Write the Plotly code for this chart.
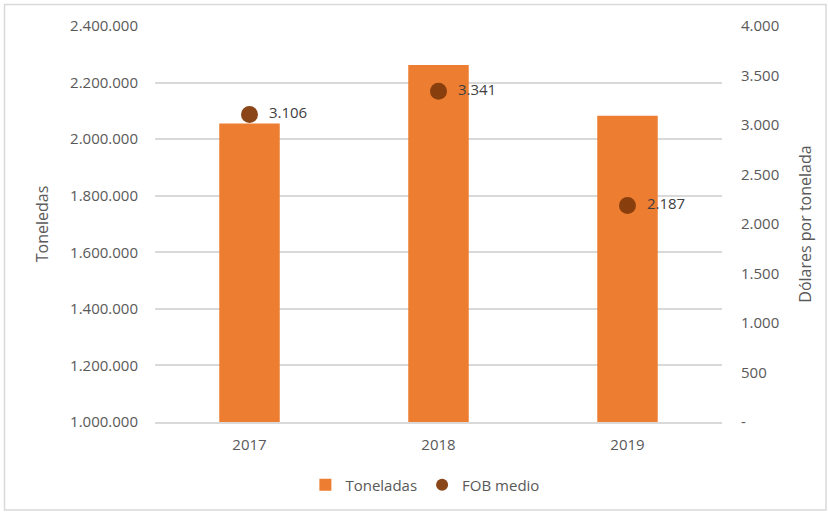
import plotly.graph_objects as go

years = ["2017", "2018", "2019"]
toneladas = [2055000, 2262000, 2083000]
fob_medio = [3106, 3341, 2187]
fob_labels = ["  3.106", "  3.341", "  2.187"]

left_ticks = [1000000, 1200000, 1400000, 1600000, 1800000, 2000000, 2200000, 2400000]
left_ticktext = ["1.000.000", "1.200.000", "1.400.000", "1.600.000", "1.800.000", "2.000.000", "2.200.000", "2.400.000"]
right_ticks = [0, 500, 1000, 1500, 2000, 2500, 3000, 3500, 4000]
right_ticktext = ["-", "500", "1.000", "1.500", "2.000", "2.500", "3.000", "3.500", "4.000"]

W, H = 828, 512
L, R, T, B = 155, 106, 26, 90
pw, ph = W - L - R, H - T - B

font_family = "Open Sans, Noto Sans, sans-serif"
gray = "#595959"

fig = go.Figure()
fig.add_trace(go.Bar(
    x=years, y=toneladas, name="Toneladas",
    marker=dict(color="#ED7D31", line=dict(width=0)),
    yaxis="y",
))
fig.add_trace(go.Scatter(
    x=years, y=fob_medio, name="FOB medio", mode="markers+text",
    marker=dict(color="#843C0C", size=17, opacity=0.95),
    text=fob_labels, textposition="middle right",
    textfont=dict(size=15, color="#404040", family=font_family),
    yaxis="y2",
))

def px2paper_x(px):
    return (px - L) / pw

def px2paper_y(py):
    return (H - B - py) / ph

fig.update_layout(
    width=W, height=H,
    margin=dict(l=L, r=R, t=T, b=B, autoexpand=False),
    plot_bgcolor="white", paper_bgcolor="white",
    bargap=0.68,
    font=dict(family=font_family, size=15, color=gray),
    showlegend=True,
    legend=dict(orientation="h", x=0.476, xanchor="center", y=px2paper_y(485), yanchor="middle",
                font=dict(size=15, color=gray), itemwidth=30, itemsizing="constant",
                traceorder="normal"),
    xaxis=dict(showgrid=False, showline=True, linecolor="#D9D9D9", linewidth=1.5,
               ticks="", ticklabelstandoff=8, tickfont=dict(size=15, color=gray), automargin=False),
    yaxis=dict(range=[1000000, 2400000], tickvals=left_ticks, ticktext=left_ticktext,
               showgrid=True, gridcolor="#D9D9D9", gridwidth=1.5, zeroline=False,
               showline=False, ticks="", ticklabelstandoff=16, automargin=False,
               title=dict(text="Toneledas", font=dict(size=16, color=gray), standoff=17)),
    yaxis2=dict(range=[0, 4000], tickvals=right_ticks, ticktext=right_ticktext,
                overlaying="y", side="right", showgrid=False, zeroline=False,
                showline=False, ticks="", ticklabelstandoff=18, automargin=False,
                title=dict(text="Dólares por tonelada", font=dict(size=16, color=gray), standoff=21)),
    shapes=[dict(type="rect", xref="paper", yref="paper",
                 x0=px2paper_x(4.5), x1=px2paper_x(826), y0=px2paper_y(510), y1=px2paper_y(4.5),
                 line=dict(color="#D9D9D9", width=1.5), fillcolor="rgba(0,0,0,0)", layer="below")],
)

fig.write_html("out.html", config={"displayModeBar": False},
               post_script="document.body.style.margin='0';document.body.style.overflow='hidden';")
